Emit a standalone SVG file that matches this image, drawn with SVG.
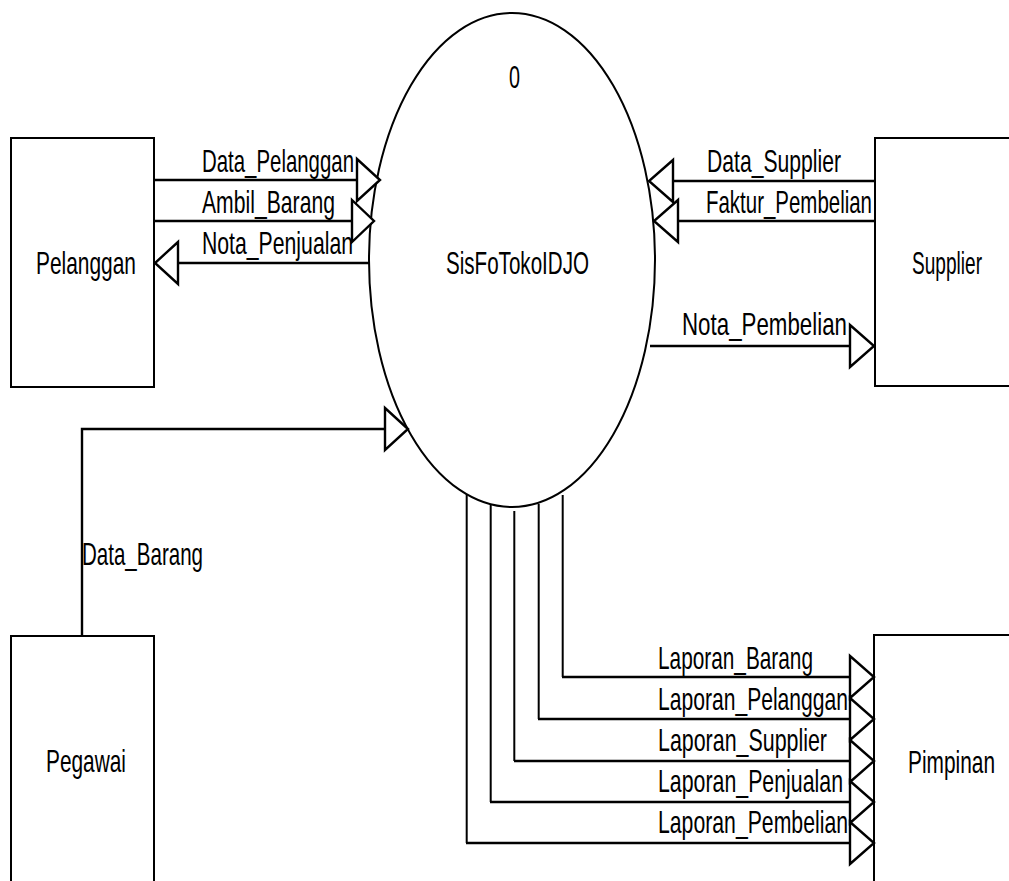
<svg xmlns="http://www.w3.org/2000/svg" width="1009" height="881" viewBox="0 0 1009 881">
<style>
.box{fill:#fff;stroke:#000;stroke-width:2}
.proc{fill:#fff;stroke:#000;stroke-width:2}
.ln{fill:none;stroke:#000;stroke-width:2.4}
.vl{fill:none;stroke:#000;stroke-width:2}
.ah{fill:#fff;stroke:#000;stroke-width:2.4;stroke-linejoin:miter}
text{font-family:"Liberation Sans",Arial,sans-serif;font-size:31.5px;fill:#000}
</style>
<rect width="1009" height="881" fill="#fff"/>
<g id="node-pelanggan">
<rect class="box" x="11" y="138" width="143" height="249"/>
<text x="36" y="274" textLength="100" lengthAdjust="spacingAndGlyphs">Pelanggan</text>
</g>
<g id="node-supplier">
<path class="box" d="M1009,138 H875 V386 H1009"/>
<text x="912" y="274" textLength="70" lengthAdjust="spacingAndGlyphs">Supplier</text>
</g>
<g id="node-pegawai">
<path class="box" d="M11,881 V636 H154 V881"/>
<text x="46" y="772" textLength="80" lengthAdjust="spacingAndGlyphs">Pegawai</text>
</g>
<g id="node-pimpinan">
<path class="box" d="M1009,635 H874 V881"/>
<text x="908" y="773" textLength="87" lengthAdjust="spacingAndGlyphs">Pimpinan</text>
</g>
<g id="node-process">
<ellipse class="proc" cx="512" cy="260" rx="143" ry="247"/>
<text x="509" y="88" textLength="11" lengthAdjust="spacingAndGlyphs">0</text>
<text x="446" y="274" textLength="143" lengthAdjust="spacingAndGlyphs">SisFoTokoIDJO</text>
</g>
<g id="connectors">
<line class="ln" x1="154" y1="180" x2="357" y2="180"/>
<polygon class="ah" points="357,159 380,180 357,201"/>
<text x="202" y="172" textLength="152" lengthAdjust="spacingAndGlyphs">Data_Pelanggan</text>
<line class="ln" x1="154" y1="221" x2="352" y2="221"/>
<polygon class="ah" points="352,200 374,221 352,242"/>
<text x="202" y="213" textLength="133" lengthAdjust="spacingAndGlyphs">Ambil_Barang</text>
<line class="ln" x1="369" y1="263" x2="178" y2="263"/>
<polygon class="ah" points="178,242 155,263 178,284"/>
<text x="202" y="254" textLength="151" lengthAdjust="spacingAndGlyphs">Nota_Penjualan</text>
<line class="ln" x1="875" y1="181" x2="673" y2="181"/>
<polygon class="ah" points="673,160 649,181 673,202"/>
<text x="707" y="172" textLength="134" lengthAdjust="spacingAndGlyphs">Data_Supplier</text>
<line class="ln" x1="875" y1="221" x2="678" y2="221"/>
<polygon class="ah" points="678,200 654,221 678,242"/>
<text x="706" y="213" textLength="166" lengthAdjust="spacingAndGlyphs">Faktur_Pembelian</text>
<line class="ln" x1="650" y1="346" x2="850" y2="346"/>
<polygon class="ah" points="850,325 874,346 850,367"/>
<text x="682" y="335" textLength="165" lengthAdjust="spacingAndGlyphs">Nota_Pembelian</text>
<polyline class="ln" points="82,636 82,429 385,429"/>
<polygon class="ah" points="385,408 408,429 385,450"/>
<text x="82" y="565" textLength="121" lengthAdjust="spacingAndGlyphs">Data_Barang</text>
<polyline class="vl" points="562.7,495 562.7,677"/>
<line class="ln" x1="562" y1="677" x2="850" y2="677"/>
<polygon class="ah" points="850,656 874,677 850,698"/>
<text x="658" y="669" textLength="155" lengthAdjust="spacingAndGlyphs">Laporan_Barang</text>
<polyline class="vl" points="538.7,504 538.7,719"/>
<line class="ln" x1="538" y1="719" x2="850" y2="719"/>
<polygon class="ah" points="850,698 874,719 850,740"/>
<text x="658" y="710" textLength="190" lengthAdjust="spacingAndGlyphs">Laporan_Pelanggan</text>
<polyline class="vl" points="514.3,511 514.3,761"/>
<line class="ln" x1="514" y1="761" x2="850" y2="761"/>
<polygon class="ah" points="850,740 874,761 850,782"/>
<text x="658" y="751" textLength="169" lengthAdjust="spacingAndGlyphs">Laporan_Supplier</text>
<polyline class="vl" points="490.7,505 490.7,802"/>
<line class="ln" x1="490" y1="802" x2="850" y2="802"/>
<polygon class="ah" points="850,781 874,802 850,823"/>
<text x="658" y="792" textLength="185" lengthAdjust="spacingAndGlyphs">Laporan_Penjualan</text>
<polyline class="vl" points="466.7,494 466.7,843"/>
<line class="ln" x1="466" y1="843" x2="850" y2="843"/>
<polygon class="ah" points="850,822 874,843 850,864"/>
<text x="658" y="833" textLength="190" lengthAdjust="spacingAndGlyphs">Laporan_Pembelian</text>
</g>
</svg>
